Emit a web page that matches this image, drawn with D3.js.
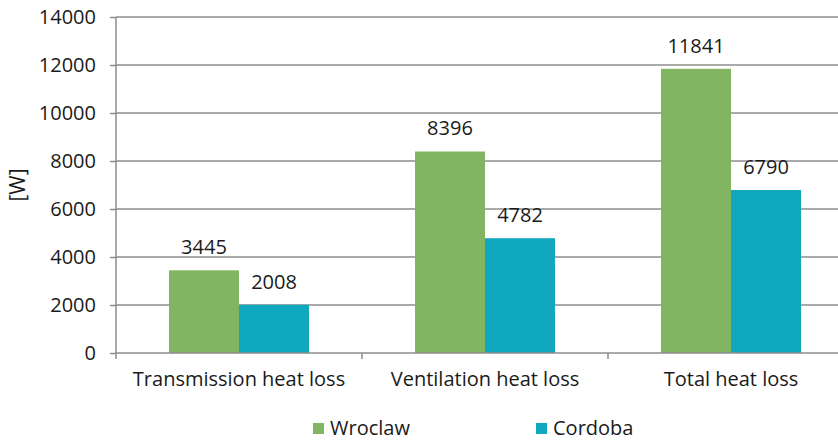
<!DOCTYPE html>
<html><head><meta charset="utf-8">
<script src="https://cdn.jsdelivr.net/npm/d3@7"></script>
<style>body{margin:0;background:#fff;} text{font-family:"Open Sans",sans-serif;fill:#1a1a1a;}</style>
</head><body>
<svg id="c" width="838" height="441"></svg>
<script>
const categories = ["Transmission heat loss", "Ventilation heat loss", "Total heat loss"];
const seriesNames = ["Wroclaw", "Cordoba"];
const wroclaw = [3445, 8396, 11841];
const cordoba = [2008, 4782, 6790];
const yTicks = [0, 2000, 4000, 6000, 8000, 10000, 12000, 14000];
const colors = ["#82b562", "#0fa8be"];

const svg = d3.select("#c");
const mL = 116, mR = 854, mT = 17, mB = 353;
const fs = 20;
const x = d3.scaleBand().domain(categories).range([mL, mR]).paddingInner(0).paddingOuter(0);
const xs = d3.scaleBand().domain(seriesNames).range([0, x.bandwidth()]).paddingInner(0).paddingOuter(0.757);
const y = d3.scaleLinear().domain([0, 14000]).range([mB, mT]);

// gridlines
svg.append("g").selectAll("line").data(yTicks.slice(1)).join("line")
  .attr("x1", mL).attr("x2", mR).attr("y1", d => y(d)).attr("y2", d => y(d))
  .attr("stroke", "#8c8c8c").attr("stroke-width", 1.5);

const series = [wroclaw, cordoba];
series.forEach((vals, si) => {
  const g = svg.append("g");
  g.selectAll("rect").data(vals).join("rect")
    .attr("x", (d, i) => x(categories[i]) + xs(seriesNames[si]))
    .attr("width", xs.bandwidth())
    .attr("y", d => y(d)).attr("height", d => y(0) - y(d))
    .attr("fill", colors[si]);
  g.selectAll("text").data(vals).join("text")
    .attr("x", (d, i) => x(categories[i]) + xs(seriesNames[si]) + xs.bandwidth() / 2)
    .attr("y", d => y(d) - 16)
    .attr("text-anchor", "middle").attr("font-size", fs)
    .text(d => d);
});

// y axis
const ya = svg.append("g").attr("transform", `translate(${mL},0)`)
  .call(d3.axisLeft(y).tickValues(yTicks).tickSize(6).tickPadding(14).tickFormat(d3.format("d")));
ya.select(".domain").attr("stroke", "#8c8c8c").attr("stroke-width", 1.5).attr("d", `M0,${mT}V${mB}`);
ya.selectAll(".tick line").attr("stroke", "#8c8c8c").attr("stroke-width", 1.5);
ya.selectAll(".tick text").attr("font-size", fs).attr("font-family", "Open Sans").attr("fill", "#1a1a1a");

// x axis
const xa = svg.append("g").attr("transform", `translate(0,${mB})`)
  .call(d3.axisBottom(x).tickSize(0).tickPadding(19));
xa.select(".domain").attr("stroke", "#8c8c8c").attr("stroke-width", 1.5).attr("d", `M${mL},0H${mR}`);
xa.selectAll(".tick text").attr("font-size", fs).attr("font-family", "Open Sans").attr("fill", "#1a1a1a");
svg.append("g").selectAll("line").data(categories.map(c => x(c)).concat([mR])).join("line")
  .attr("x1", d => d).attr("x2", d => d).attr("y1", mB).attr("y2", mB + 6)
  .attr("stroke", "#8c8c8c").attr("stroke-width", 1.5);

// y label
svg.append("text").attr("transform", `translate(25,${(mT + mB) / 2}) rotate(-90)`)
  .attr("text-anchor", "middle").attr("font-size", 21).text("[W]");

// legend
const legX = [313, 536];
const lg = svg.append("g").selectAll("g").data(seriesNames).join("g")
  .attr("transform", (d, i) => `translate(${legX[i]},423)`);
lg.append("rect").attr("width", 11).attr("height", 11).attr("fill", (d, i) => colors[i]);
lg.append("text").attr("x", 17).attr("y", 12).attr("font-size", fs).text(d => d);
</script>
</body></html>
